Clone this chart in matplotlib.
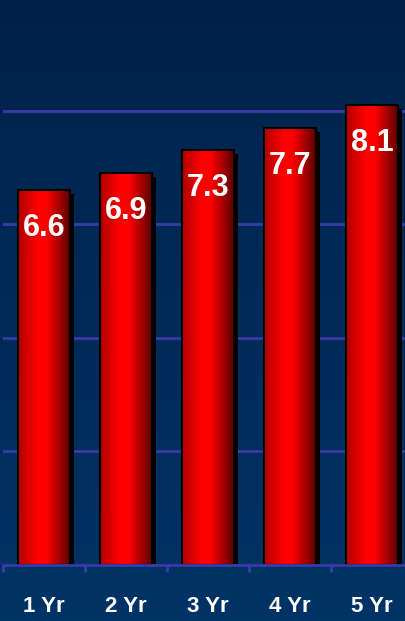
import matplotlib.pyplot as plt
import matplotlib.transforms as mtransforms
from matplotlib import font_manager
from matplotlib.colors import LinearSegmentedColormap
import numpy as np

labels = ['1 Yr', '2 Yr', '3 Yr', '4 Yr', '5 Yr']
values = [6.6, 6.9, 7.3, 7.7, 8.1]

navy_top = '#00224a'
navy_bottom = '#003366'
grid_col = '#3a3aa8'

# narrow face if the system has one
installed = {f.name for f in font_manager.fontManager.ttflist}
if 'Liberation Sans Narrow' in installed:
    num_font, num_size = 'Liberation Sans Narrow', 25
else:
    num_font, num_size = 'Liberation Sans', 22

fig = plt.figure(figsize=(4.05, 6.21), dpi=100)

# background gradient over the whole figure
bg = fig.add_axes([0, 0, 1, 1])
bg_cmap = LinearSegmentedColormap.from_list('bg', [navy_bottom, navy_top])
bg.imshow(np.linspace(0, 1, 256).reshape(-1, 1), aspect='auto', cmap=bg_cmap,
          origin='lower', extent=[0, 1, 0, 1])
bg.axis('off')

ax = fig.add_axes([3 / 405, 56 / 621, 410 / 405, 565 / 621])
ax.patch.set_alpha(0)

for y in [2, 4, 6, 8]:
    ax.axhline(y, color=grid_col, lw=2, zorder=1)

x = np.arange(len(values)) + 0.5
w = 0.634

# drop shadow
shadow = mtransforms.offset_copy(ax.transData, fig=fig, x=4, y=-4, units='dots')
ax.bar(x, values, width=w, color='black', transform=shadow, zorder=2)

bar_cmap = LinearSegmentedColormap.from_list(
    'bar', [(0, '#b00000'), (0.38, '#ff0000'), (0.55, '#ff0000'), (1, '#5a0000')])
grad = np.linspace(0, 1, 256).reshape(1, -1)

for xi, v in zip(x, values):
    ax.imshow(grad, aspect='auto', cmap=bar_cmap,
              extent=[xi - w / 2, xi + w / 2, 0, v], zorder=3)
    ax.bar(xi, v, width=w, facecolor='none', edgecolor='black', lw=1.5, zorder=4)
    ax.annotate('{:.1f}'.format(v), (xi, v), xytext=(0, -38), textcoords='offset pixels',
                ha='center', va='center', color='white', fontsize=num_size,
                fontweight='bold', family=num_font, zorder=5)

ax.set_xlim(0, len(values))
ax.set_ylim(0, 9.95)

for s in ['top', 'right', 'left']:
    ax.spines[s].set_visible(False)
ax.spines['bottom'].set_color(grid_col)
ax.spines['bottom'].set_linewidth(2)
ax.spines['bottom'].set_zorder(6)

ax.set_yticks([])
ax.set_xticks(range(len(values) + 1))
ax.set_xticklabels([])
ax.tick_params(axis='x', length=5, width=2, color=grid_col)
ax.set_xticks(x, minor=True)
ax.set_xticklabels(labels, minor=True, color='white', fontsize=16, fontweight='bold',
                   family='Liberation Sans')
ax.tick_params(axis='x', which='minor', length=0, pad=22)

fig.savefig('out.png', dpi=100)
